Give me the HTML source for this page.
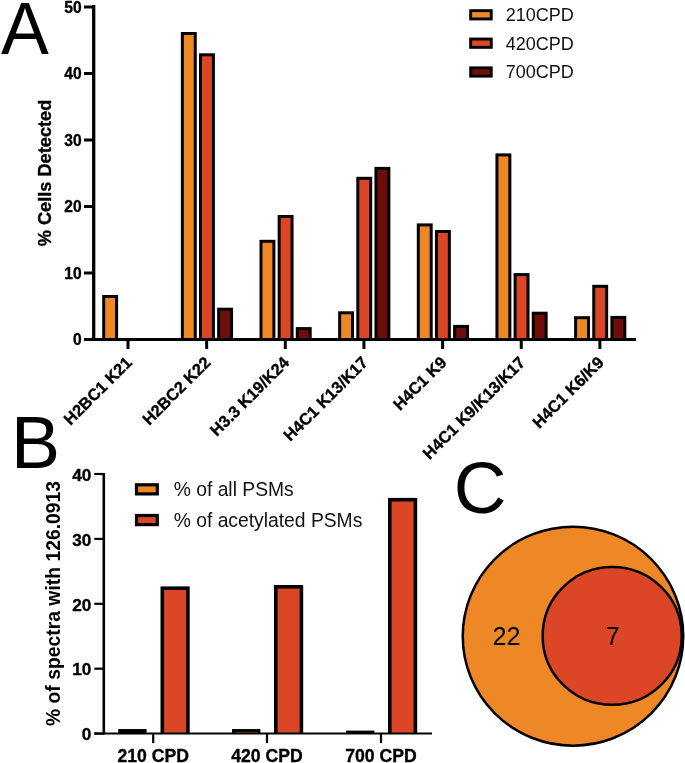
<!DOCTYPE html><html><head><meta charset="utf-8"><style>html,body{margin:0;padding:0;background:#fff;}body{width:685px;height:763px;overflow:hidden;}svg{display:block;filter:blur(0.35px);}text{font-family:"Liberation Sans",sans-serif;}.b{font-weight:bold;stroke:#000;stroke-width:0.35px;}</style></head><body>
<svg width="685" height="763" viewBox="0 0 685 763">
<rect x="0" y="0" width="685" height="763" fill="#fff"/>
<text x="0" y="0" font-size="75" fill="#000" transform="translate(0.9 53.6) scale(0.956 1)">A</text>
<text x="10.9" y="467.8" font-size="73.5" fill="#000">B</text>
<text x="453.8" y="513.3" font-size="73" fill="#000">C</text>
<rect x="102.20" y="295.00" width="15.90" height="44.50" fill="#000"/>
<rect x="105.20" y="298.00" width="9.90" height="41.50" fill="#ED8825"/>
<rect x="180.85" y="32.00" width="15.90" height="307.50" fill="#000"/>
<rect x="183.85" y="35.00" width="9.90" height="304.50" fill="#ED8825"/>
<rect x="199.00" y="53.30" width="15.90" height="286.20" fill="#000"/>
<rect x="202.00" y="56.30" width="9.90" height="283.20" fill="#DA4626"/>
<rect x="217.15" y="307.70" width="15.90" height="31.80" fill="#000"/>
<rect x="220.15" y="310.70" width="9.90" height="28.80" fill="#700C0B"/>
<rect x="259.50" y="239.80" width="15.90" height="99.70" fill="#000"/>
<rect x="262.50" y="242.80" width="9.90" height="96.70" fill="#ED8825"/>
<rect x="277.65" y="215.00" width="15.90" height="124.50" fill="#000"/>
<rect x="280.65" y="218.00" width="9.90" height="121.50" fill="#DA4626"/>
<rect x="295.80" y="327.10" width="15.90" height="12.40" fill="#000"/>
<rect x="298.80" y="330.10" width="9.90" height="9.40" fill="#700C0B"/>
<rect x="338.15" y="311.30" width="15.90" height="28.20" fill="#000"/>
<rect x="341.15" y="314.30" width="9.90" height="25.20" fill="#ED8825"/>
<rect x="356.30" y="176.80" width="15.90" height="162.70" fill="#000"/>
<rect x="359.30" y="179.80" width="9.90" height="159.70" fill="#DA4626"/>
<rect x="374.45" y="166.90" width="15.90" height="172.60" fill="#000"/>
<rect x="377.45" y="169.90" width="9.90" height="169.60" fill="#700C0B"/>
<rect x="416.80" y="223.40" width="15.90" height="116.10" fill="#000"/>
<rect x="419.80" y="226.40" width="9.90" height="113.10" fill="#ED8825"/>
<rect x="434.95" y="230.00" width="15.90" height="109.50" fill="#000"/>
<rect x="437.95" y="233.00" width="9.90" height="106.50" fill="#DA4626"/>
<rect x="453.10" y="324.90" width="15.90" height="14.60" fill="#000"/>
<rect x="456.10" y="327.90" width="9.90" height="11.60" fill="#700C0B"/>
<rect x="495.45" y="153.40" width="15.90" height="186.10" fill="#000"/>
<rect x="498.45" y="156.40" width="9.90" height="183.10" fill="#ED8825"/>
<rect x="513.60" y="273.10" width="15.90" height="66.40" fill="#000"/>
<rect x="516.60" y="276.10" width="9.90" height="63.40" fill="#DA4626"/>
<rect x="531.75" y="311.70" width="15.90" height="27.80" fill="#000"/>
<rect x="534.75" y="314.70" width="9.90" height="24.80" fill="#700C0B"/>
<rect x="574.10" y="316.20" width="15.90" height="23.30" fill="#000"/>
<rect x="577.10" y="319.20" width="9.90" height="20.30" fill="#ED8825"/>
<rect x="592.25" y="284.80" width="15.90" height="54.70" fill="#000"/>
<rect x="595.25" y="287.80" width="9.90" height="51.70" fill="#DA4626"/>
<rect x="610.40" y="315.90" width="15.90" height="23.60" fill="#000"/>
<rect x="613.40" y="318.90" width="9.90" height="20.60" fill="#700C0B"/>
<line x1="93.7" y1="5.1" x2="93.7" y2="341.0" stroke="#000" stroke-width="3.3"/>
<line x1="84" y1="339.5" x2="636" y2="339.5" stroke="#000" stroke-width="3"/>
<line x1="84" y1="339.50" x2="93.7" y2="339.50" stroke="#000" stroke-width="3"/>
<text x="81.6" y="345.00" font-size="15.6" class="b" text-anchor="end" fill="#000">0</text>
<line x1="84" y1="273.00" x2="93.7" y2="273.00" stroke="#000" stroke-width="3"/>
<text x="81.6" y="278.50" font-size="15.6" class="b" text-anchor="end" fill="#000">10</text>
<line x1="84" y1="206.50" x2="93.7" y2="206.50" stroke="#000" stroke-width="3"/>
<text x="81.6" y="212.00" font-size="15.6" class="b" text-anchor="end" fill="#000">20</text>
<line x1="84" y1="140.00" x2="93.7" y2="140.00" stroke="#000" stroke-width="3"/>
<text x="81.6" y="145.50" font-size="15.6" class="b" text-anchor="end" fill="#000">30</text>
<line x1="84" y1="73.50" x2="93.7" y2="73.50" stroke="#000" stroke-width="3"/>
<text x="81.6" y="79.00" font-size="15.6" class="b" text-anchor="end" fill="#000">40</text>
<line x1="84" y1="7.00" x2="93.7" y2="7.00" stroke="#000" stroke-width="3"/>
<text x="81.6" y="12.50" font-size="15.6" class="b" text-anchor="end" fill="#000">50</text>
<line x1="128.00" y1="339.5" x2="128.00" y2="349" stroke="#000" stroke-width="3"/>
<text x="133.00" y="363.5" font-size="16.4" class="b" text-anchor="end" transform="rotate(-45 133.00 363.5)" fill="#000">H2BC1 K21</text>
<line x1="206.65" y1="339.5" x2="206.65" y2="349" stroke="#000" stroke-width="3"/>
<text x="211.65" y="363.5" font-size="16.4" class="b" text-anchor="end" transform="rotate(-45 211.65 363.5)" fill="#000">H2BC2 K22</text>
<line x1="285.30" y1="339.5" x2="285.30" y2="349" stroke="#000" stroke-width="3"/>
<text x="290.30" y="363.5" font-size="16.4" class="b" text-anchor="end" transform="rotate(-45 290.30 363.5)" fill="#000">H3.3 K19/K24</text>
<line x1="363.95" y1="339.5" x2="363.95" y2="349" stroke="#000" stroke-width="3"/>
<text x="368.95" y="363.5" font-size="16.4" class="b" text-anchor="end" transform="rotate(-45 368.95 363.5)" fill="#000">H4C1 K13/K17</text>
<line x1="442.60" y1="339.5" x2="442.60" y2="349" stroke="#000" stroke-width="3"/>
<text x="447.60" y="363.5" font-size="16.4" class="b" text-anchor="end" transform="rotate(-45 447.60 363.5)" fill="#000">H4C1 K9</text>
<line x1="521.25" y1="339.5" x2="521.25" y2="349" stroke="#000" stroke-width="3"/>
<text x="526.25" y="363.5" font-size="16.4" class="b" text-anchor="end" transform="rotate(-45 526.25 363.5)" fill="#000">H4C1 K9/K13/K17</text>
<line x1="599.90" y1="339.5" x2="599.90" y2="349" stroke="#000" stroke-width="3"/>
<text x="604.90" y="363.5" font-size="16.4" class="b" text-anchor="end" transform="rotate(-45 604.90 363.5)" fill="#000">H4C1 K6/K9</text>
<text x="0" y="0" font-size="18.2" class="b" text-anchor="middle" transform="translate(50.7 173.0) rotate(-90)" fill="#000">% Cells Detected</text>
<rect x="470.65" y="10.65" width="20.60" height="8.30" fill="#ED8825" stroke="#000" stroke-width="2.9"/>
<text x="505.8" y="20.8" font-size="18" fill="#111">210CPD</text>
<rect x="470.65" y="39.05" width="20.60" height="8.30" fill="#DA4626" stroke="#000" stroke-width="2.9"/>
<text x="505.8" y="49.5" font-size="18" fill="#111">420CPD</text>
<rect x="470.65" y="67.85" width="20.60" height="8.30" fill="#700C0B" stroke="#000" stroke-width="2.9"/>
<text x="505.8" y="78.3" font-size="18" fill="#111">700CPD</text>
<rect x="118.20" y="729.05" width="28.4" height="4.55" fill="#000"/>
<rect x="160.50" y="586.40" width="29.20" height="147.20" fill="#000"/>
<rect x="164.10" y="590.00" width="22.00" height="143.60" fill="#DA4626"/>
<rect x="232.00" y="729.05" width="28.4" height="4.55" fill="#000"/>
<rect x="235.00" y="731.9" width="22.4" height="1" fill="#9a5516"/>
<rect x="274.00" y="585.00" width="29.20" height="148.60" fill="#000"/>
<rect x="277.60" y="588.60" width="22.00" height="145.00" fill="#DA4626"/>
<rect x="346.00" y="730.60" width="28.4" height="3.00" fill="#000"/>
<rect x="388.00" y="497.90" width="29.20" height="235.70" fill="#000"/>
<rect x="391.60" y="501.50" width="22.00" height="232.10" fill="#DA4626"/>
<line x1="103.8" y1="473.0" x2="103.8" y2="734.6" stroke="#000" stroke-width="2.6"/>
<line x1="94.3" y1="733.6" x2="432" y2="733.6" stroke="#000" stroke-width="2.0"/>
<line x1="94.3" y1="733.60" x2="103.8" y2="733.60" stroke="#000" stroke-width="2.2"/>
<text x="91.4" y="740.30" font-size="17.2" class="b" text-anchor="end" fill="#000">0</text>
<line x1="94.3" y1="668.70" x2="103.8" y2="668.70" stroke="#000" stroke-width="2.2"/>
<text x="91.4" y="675.40" font-size="17.2" class="b" text-anchor="end" fill="#000">10</text>
<line x1="94.3" y1="603.80" x2="103.8" y2="603.80" stroke="#000" stroke-width="2.2"/>
<text x="91.4" y="610.50" font-size="17.2" class="b" text-anchor="end" fill="#000">20</text>
<line x1="94.3" y1="538.90" x2="103.8" y2="538.90" stroke="#000" stroke-width="2.2"/>
<text x="91.4" y="545.60" font-size="17.2" class="b" text-anchor="end" fill="#000">30</text>
<line x1="94.3" y1="474.00" x2="103.8" y2="474.00" stroke="#000" stroke-width="2.2"/>
<text x="91.4" y="480.70" font-size="17.2" class="b" text-anchor="end" fill="#000">40</text>
<line x1="153.2" y1="733.6" x2="153.2" y2="743.1" stroke="#000" stroke-width="2.2"/>
<text x="153.2" y="762" font-size="17.6" class="b" text-anchor="middle" fill="#000">210 CPD</text>
<line x1="267.0" y1="733.6" x2="267.0" y2="743.1" stroke="#000" stroke-width="2.2"/>
<text x="267.0" y="762" font-size="17.6" class="b" text-anchor="middle" fill="#000">420 CPD</text>
<line x1="381.0" y1="733.6" x2="381.0" y2="743.1" stroke="#000" stroke-width="2.2"/>
<text x="381.0" y="762" font-size="17.6" class="b" text-anchor="middle" fill="#000">700 CPD</text>
<text x="0" y="0" font-size="19.35" font-weight="bold" text-anchor="middle" transform="translate(59.9 603.5) rotate(-90)" fill="#000">% of spectra with 126.0913</text>
<rect x="136.5" y="484.80" width="20.8" height="9.1" fill="#ED8825" stroke="#000" stroke-width="3.2"/>
<text x="173.7" y="495.7" font-size="19.3" fill="#111">% of all PSMs</text>
<rect x="136.5" y="515.50" width="20.8" height="9.1" fill="#DA4626" stroke="#000" stroke-width="3.2"/>
<text x="173.7" y="526.6" font-size="19.3" fill="#111">% of acetylated PSMs</text>
<ellipse cx="573" cy="636.2" rx="110.25" ry="109.45" fill="#EE8826" stroke="#000" stroke-width="2.5"/>
<ellipse cx="612.2" cy="635.9" rx="69.55" ry="68.95" fill="#DA4626" stroke="#000" stroke-width="2.5"/>
<text x="506.6" y="644.6" font-size="25.2" text-anchor="middle" fill="#000">22</text>
<text x="612.7" y="644.6" font-size="25.2" text-anchor="middle" fill="#000">7</text>
</svg></body></html>
